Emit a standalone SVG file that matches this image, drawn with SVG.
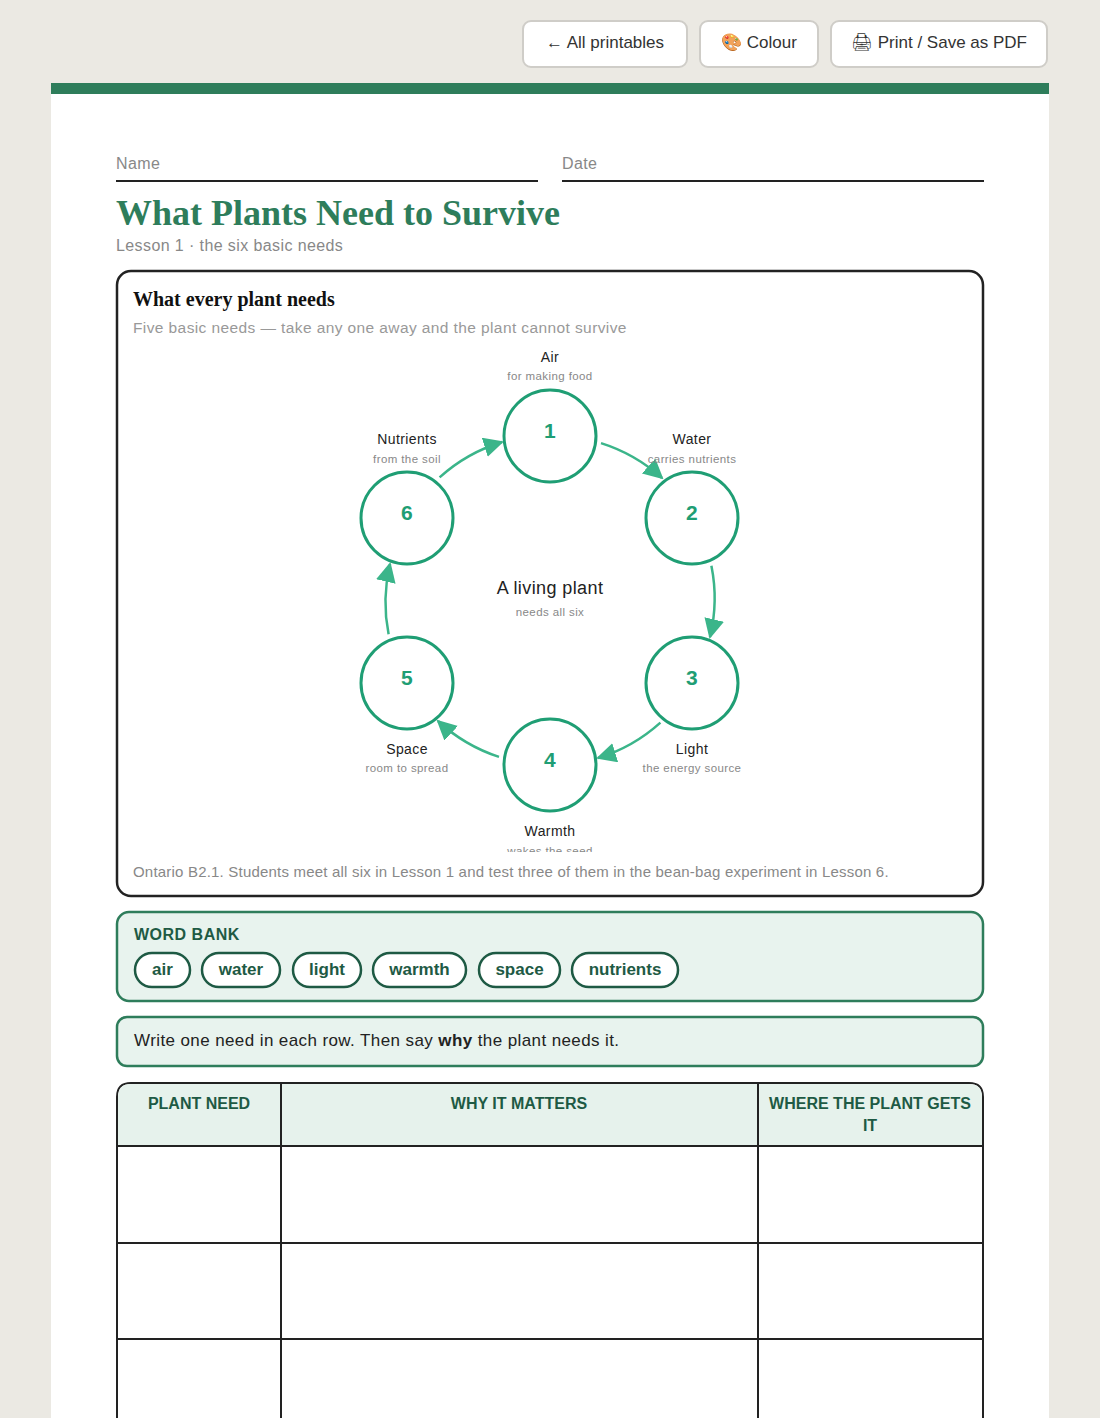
<svg xmlns="http://www.w3.org/2000/svg" width="1100" height="1418" viewBox="0 0 1100 1418">
<style>
.s{font-family:"Liberation Sans",Arial,sans-serif;letter-spacing:0.4px}
.btn{fill:#fff;stroke:#cfcdc8;stroke-width:2}
.bt{font-size:17px;fill:#333}
.lbl{font-size:16px;fill:#888}
.node{fill:#fff;stroke:#1f9e74;stroke-width:3}
.num{font-size:21px;fill:#1f9e74;text-anchor:middle;font-weight:bold}
.nl{font-size:14px;fill:#222;text-anchor:middle}
.ns{font-size:11.5px;fill:#888;text-anchor:middle}
.arr{fill:none;stroke:#3bb58a;stroke-width:2.5}
.pill{fill:#fff;stroke:#1e5a44;stroke-width:2.5}
.pt{font-size:17px;fill:#1e5a44;font-weight:bold;text-anchor:middle;letter-spacing:0}
.th{font-size:16px;fill:#1e5a44;text-anchor:middle;font-weight:bold;letter-spacing:0}
.grid{stroke:#222;stroke-width:2;fill:none}
</style>
<defs>
<marker id="ah" viewBox="0 0 10 10" refX="9" refY="5" markerWidth="20" markerHeight="20" markerUnits="userSpaceOnUse" orient="auto"><path d="M0,0 L10,5 L0,10 z" fill="#3bb58a"/></marker>
<clipPath id="cc"><rect x="117" y="271" width="866" height="581"/></clipPath>
</defs>
<rect width="1100" height="1418" fill="#ebe9e3"/>
<g id="buttons" class="s">
<rect class="btn" x="523" y="21" width="164" height="46" rx="8"/><text class="bt" x="605" y="48" text-anchor="middle" letter-spacing="0">← All printables</text>
<rect class="btn" x="700" y="21" width="118" height="46" rx="8"/><text class="bt" x="759" y="48" text-anchor="middle" letter-spacing="0">🎨 Colour</text>
<rect class="btn" x="831" y="21" width="216" height="46" rx="8"/><text class="bt" x="939" y="48" text-anchor="middle" letter-spacing="0">🖨 Print / Save as PDF</text>
</g>
<rect x="51" y="83" width="998" height="1340" fill="#fff"/>
<rect x="51" y="83" width="998" height="11" fill="#2e7d5b"/>
<g id="header" class="s">
<text class="lbl" x="116" y="169">Name</text><line x1="116" y1="181" x2="538" y2="181" stroke="#222" stroke-width="2"/>
<text class="lbl" x="562" y="169">Date</text><line x1="562" y1="181" x2="984" y2="181" stroke="#222" stroke-width="2"/>
<text x="116" y="225" font-family="'Liberation Serif','Times New Roman',serif" font-weight="bold" font-size="36" fill="#2e7d5b" letter-spacing="0">What Plants Need to Survive</text>
<text class="lbl" x="116" y="251" font-size="17">Lesson 1 · the six basic needs</text>
</g>
<g id="card" class="s">
<rect x="117" y="271" width="866" height="625" rx="14" fill="#fff" stroke="#222" stroke-width="2.5"/>
<text x="133" y="306" font-family="'Liberation Serif','Times New Roman',serif" font-weight="bold" font-size="20" fill="#111" letter-spacing="0">What every plant needs</text>
<text x="133" y="333" font-size="15.5" fill="#999">Five basic needs — take any one away and the plant cannot survive</text>
<text x="133" y="877" font-size="15" fill="#888" letter-spacing="0.2">Ontario B2.1. Students meet all six in Lesson 1 and test three of them in the bean-bag experiment in Lesson 6.</text>
</g>
<g id="connectors">
<path class="arr" marker-end="url(#ah)" d="M601,443.1 A165,165 0 0 1 662,478"/>
<path class="arr" marker-end="url(#ah)" d="M711.4,565.7 A165,165 0 0 1 710,637"/>
<path class="arr" marker-end="url(#ah)" d="M660.4,722.6 A165,165 0 0 1 598,758"/>
<path class="arr" marker-end="url(#ah)" d="M499,756.9 A165,165 0 0 1 438,721"/>
<path class="arr" marker-end="url(#ah)" d="M388.6,634.3 A165,165 0 0 1 390,564"/>
<path class="arr" marker-end="url(#ah)" d="M439.6,477.4 A165,165 0 0 1 502,442"/>
</g>
<g class="s" clip-path="url(#cc)">
<g id="center"><text x="550" y="594" font-size="18" fill="#222" text-anchor="middle">A living plant</text><text class="ns" x="550" y="616" font-size="13">needs all six</text></g>
<g id="n1"><circle class="node" cx="550" cy="436" r="46"/><text class="num" x="550" y="438">1</text><text class="nl" x="550" y="362">Air</text><text class="ns" x="550" y="380">for making food</text></g>
<g id="n2"><circle class="node" cx="692" cy="518" r="46"/><text class="num" x="692" y="520">2</text><text class="nl" x="692" y="444">Water</text><text class="ns" x="692" y="463">carries nutrients</text></g>
<g id="n3"><circle class="node" cx="692" cy="683" r="46"/><text class="num" x="692" y="685">3</text><text class="nl" x="692" y="754">Light</text><text class="ns" x="692" y="772">the energy source</text></g>
<g id="n4"><circle class="node" cx="550" cy="765" r="46"/><text class="num" x="550" y="767">4</text><text class="nl" x="550" y="836">Warmth</text><text class="ns" x="550" y="855">wakes the seed</text></g>
<g id="n5"><circle class="node" cx="407" cy="683" r="46"/><text class="num" x="407" y="685">5</text><text class="nl" x="407" y="754">Space</text><text class="ns" x="407" y="772">room to spread</text></g>
<g id="n6"><circle class="node" cx="407" cy="518" r="46"/><text class="num" x="407" y="520">6</text><text class="nl" x="407" y="444">Nutrients</text><text class="ns" x="407" y="463">from the soil</text></g>
</g>
<g id="wordbank" class="s">
<rect x="117" y="912" width="866" height="89" rx="12" fill="#e8f3ee" stroke="#2e7d5b" stroke-width="2.5"/>
<text x="134" y="940" font-size="16" fill="#1e5a44" font-weight="bold" letter-spacing="0.5">WORD BANK</text>
<rect class="pill" x="135" y="953" width="55" height="34" rx="17"/><text class="pt" x="162.5" y="975">air</text>
<rect class="pill" x="202" y="953" width="78" height="34" rx="17"/><text class="pt" x="241" y="975">water</text>
<rect class="pill" x="293" y="953" width="68" height="34" rx="17"/><text class="pt" x="327" y="975">light</text>
<rect class="pill" x="373" y="953" width="93" height="34" rx="17"/><text class="pt" x="419.5" y="975">warmth</text>
<rect class="pill" x="479" y="953" width="81" height="34" rx="17"/><text class="pt" x="519.5" y="975">space</text>
<rect class="pill" x="572" y="953" width="106" height="34" rx="17"/><text class="pt" x="625" y="975">nutrients</text>
</g>
<g id="instruction" class="s">
<rect x="117" y="1017" width="866" height="49" rx="10" fill="#e8f3ee" stroke="#2e7d5b" stroke-width="2.5"/>
<text x="134" y="1046" font-size="17" fill="#222">Write one need in each row. Then say <tspan font-weight="bold">why</tspan> the plant needs it.</text>
</g>
<g id="table" class="s">
<path d="M117,1420 V1097 Q117,1083 131,1083 H969 Q983,1083 983,1097 V1420 Z" fill="#fff" stroke="#222" stroke-width="2"/>
<path d="M118,1146 V1097 Q118,1084 131,1084 H969 Q982,1084 982,1097 V1146 Z" fill="#e6f2ec"/>
<line class="grid" x1="117" y1="1146" x2="983" y2="1146"/>
<line class="grid" x1="117" y1="1243" x2="983" y2="1243"/>
<line class="grid" x1="117" y1="1339" x2="983" y2="1339"/>
<line class="grid" x1="281" y1="1083" x2="281" y2="1420"/>
<line class="grid" x1="758" y1="1083" x2="758" y2="1420"/>
<text class="th" x="199" y="1109">PLANT NEED</text>
<text class="th" x="519" y="1109">WHY IT MATTERS</text>
<text class="th" x="870" y="1109">WHERE THE PLANT GETS</text>
<text class="th" x="870" y="1131">IT</text>
</g>
</svg>
